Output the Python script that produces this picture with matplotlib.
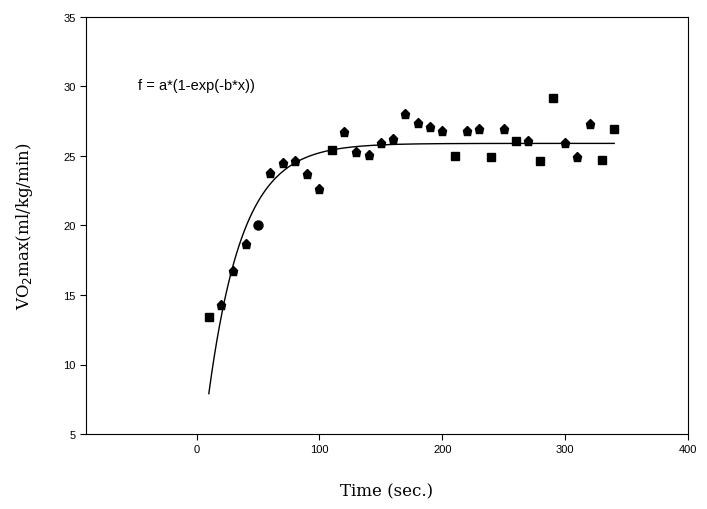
import matplotlib.pyplot as plt
import numpy as np

time = [10, 20, 30, 40, 50, 60, 70, 80, 90, 100, 110, 120, 130, 140, 150, 160, 170,
        180, 190, 200, 210, 220, 230, 240, 250, 260, 270, 280, 290, 300, 310, 320, 330, 340]
vo2 = [13.4, 14.3, 16.7, 18.7, 20.0, 23.8, 24.5, 24.6, 23.7, 22.6, 25.4, 26.7, 25.3, 25.1,
       25.9, 26.2, 28.0, 27.4, 27.1, 26.8, 25.0, 26.8, 26.9, 24.9, 26.9, 26.1, 26.1, 24.6,
       29.2, 25.9, 24.9, 27.3, 24.7, 26.9]
markers = ['s', 'p', 'p', 'p', 'o', 'p', 'p', 'p', 'p', 'p', 's', 'p', 'p', 'p', 'p', 'p', 'p',
           'p', 'p', 'p', 's', 'p', 'p', 's', 'p', 's', 'p', 's', 's', 'p', 'p', 'p', 's', 's']
a, b = 25.9, 0.0364

plt.rcParams['font.family'] = ['Liberation Sans', 'DejaVu Sans']
fig = plt.figure(figsize=(7.07, 5.10), dpi=100)
ax = fig.add_axes([0.1216, 0.147, 0.8514, 0.818])

for x, y, m in zip(time, vo2, markers):
    ax.plot(x, y, marker=m, color='black', markersize=6.5 if m != 's' else 5.5, linestyle='none')

xs = np.linspace(10, 340, 300)
ax.plot(xs, a * (1 - np.exp(-b * xs)), color='black', linewidth=1)

ax.set_xlim(-90, 400)
ax.set_ylim(5, 35)
ax.set_xticks([0, 100, 200, 300, 400])
ax.set_yticks([5, 10, 15, 20, 25, 30, 35])
ax.tick_params(labelsize=8, direction='out', length=4)
ax.text(-48, 29.8, 'f = a*(1-exp(-b*x))', fontsize=10.5)
ax.set_xlabel('Time (sec.)', family='DejaVu Serif', fontsize=12, labelpad=20)
ax.set_ylabel('VO$_2$max(ml/kg/min)', family='DejaVu Serif', fontsize=12, labelpad=20)

fig.savefig('out.png')
